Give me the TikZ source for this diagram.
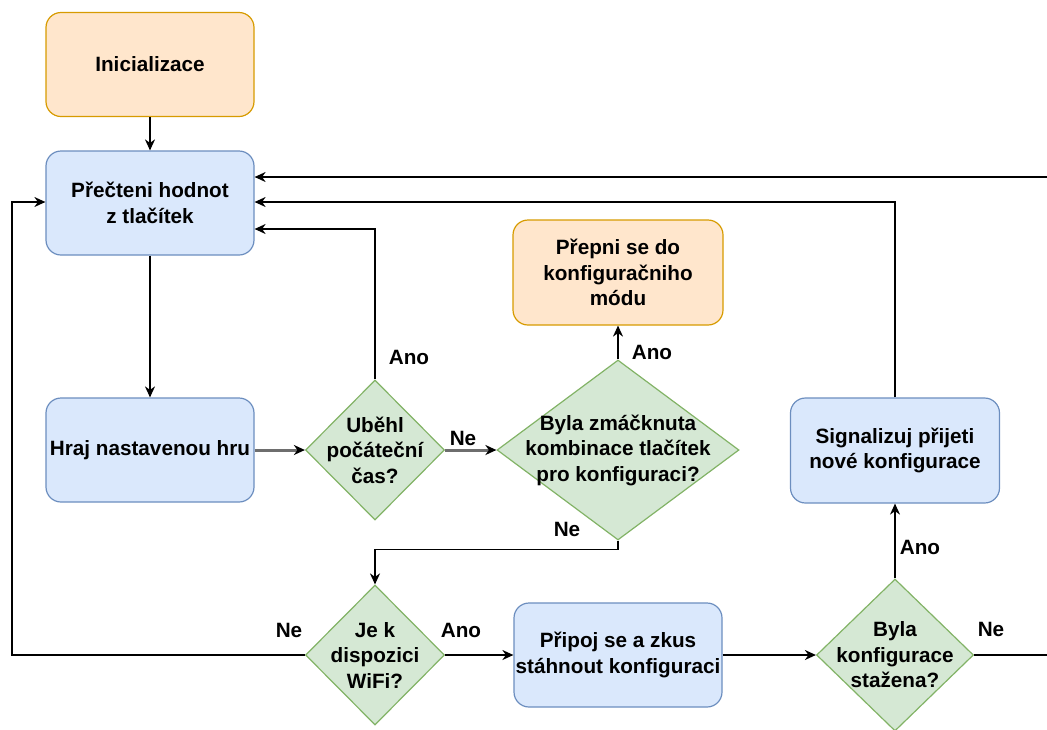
\documentclass[tikz,border=0pt]{standalone}
\usepackage{fontspec}
\setmainfont{Liberation Sans}
\usetikzlibrary{arrows.meta,shapes.geometric}
\definecolor{orf}{HTML}{FFE6CC}
\definecolor{ord}{HTML}{D79B00}
\definecolor{blf}{HTML}{DAE8FC}
\definecolor{bld}{HTML}{6C8EBF}
\definecolor{grf}{HTML}{D5E8D4}
\definecolor{grd}{HTML}{82B366}
\definecolor{gln}{HTML}{6E6E6E}
\begin{document}
\begin{tikzpicture}[x=1pt,y=-1pt,
  every node/.style={font=\bfseries\fontsize{20.7}{25.5}\selectfont, align=center, text=black},
  box/.style={rectangle, rounded corners=15pt, line width=1.2pt, minimum width=208pt, minimum height=104pt, inner sep=0pt},
  orbox/.style={box, fill=orf, draw=ord},
  blbox/.style={box, fill=blf, draw=bld},
  dia/.style={diamond, draw=grd, fill=grf, line width=1.2pt, inner sep=0pt},
  conn/.style={line width=1.5pt, -{Stealth[length=11pt,width=10pt,inset=3.5pt]}},
  gconn/.style={draw=gln, line width=3pt, -{Stealth[color=black,length=11pt,width=10pt,inset=3.5pt]}},
  plain/.style={line width=1.5pt}
]
\useasboundingbox (0,0) rectangle (1047,729);

% boxes
\node[orbox] (init) at (150,64.5) {Inicializace};
\node[blbox] (read) at (150,203) {Přečteni hodnot\\z tlačítek};
\node[blbox] (play) at (150,450) {Hraj nastavenou hru};
\node[orbox, minimum width=210pt, minimum height=105pt] (prep) at (618,272.5) {Přepni se do\\konfiguračniho\\módu};
\node[blbox, minimum width=209pt, minimum height=105pt] (sig) at (895,450.5) {Signalizuj přijeti\\nové konfigurace};
\node[blbox] (pripoj) at (618,655) {Připoj se a zkus\\stáhnout konfiguraci};

% diamonds
\node[dia, minimum width=139pt, minimum height=140pt] (ub) at (375,450) {};
\node (ubt) at (ub.center) {Uběhl\\počáteční\\čas?};
\node[dia, minimum width=242pt, minimum height=180pt] (bz) at (618,450) {};
\node (bzt) at (bz.center) {Byla zmáčknuta\\kombinace tlačítek\\pro konfiguraci?};
\node[dia, minimum width=139pt, minimum height=140pt] (wifi) at (375,655) {};
\node (wifit) at (wifi.center) {Je k\\dispozici\\WiFi?};
\node[dia, minimum width=157pt, minimum height=152pt] (bk) at (895,655) {};
\node (bkt) at (bk.center) {Byla\\konfigurace\\stažena?};

% off-picture ends
\coordinate (topin) at (1070,177);
\coordinate (rightout) at (1070,655);

% connectors
\draw[conn] (init) -- (read);
\draw[conn] (read) -- (play);
\draw[gconn] (play) -- (ub);
\draw[gconn] (ub) -- (bz);
\draw[conn] (ub.north) |- ([yshift=-26pt]read.east);
\draw[conn] (topin) -- (read.east |- topin);
\draw[conn] (sig.north) |- ([yshift=1pt]read.east);
\draw[conn] (wifi.west) -- (12,655) |- ([yshift=1pt]read.west);
\draw[conn] (bz.north) -- (prep.south);
\draw[conn] (bz.south) -- ++(0,9) -| (wifi.north);
\draw[conn] (wifi.east) -- (pripoj.west);
\draw[conn] (pripoj.east) -- (bk.west);
\draw[conn] (bk.north) -- (sig.south);
\draw[plain] (bk.east) -- (rightout);

% connector labels
\node (l1) at (409,357) {Ano};
\node (l2) at (463,438) {Ne};
\node (l3) at (652,352) {Ano};
\node (l4) at (567,529) {Ne};
\node (l5) at (289,630) {Ne};
\node (l6) at (461,630) {Ano};
\node (l7) at (920,547) {Ano};
\node (l8) at (991,629) {Ne};
\end{tikzpicture}
\end{document}
